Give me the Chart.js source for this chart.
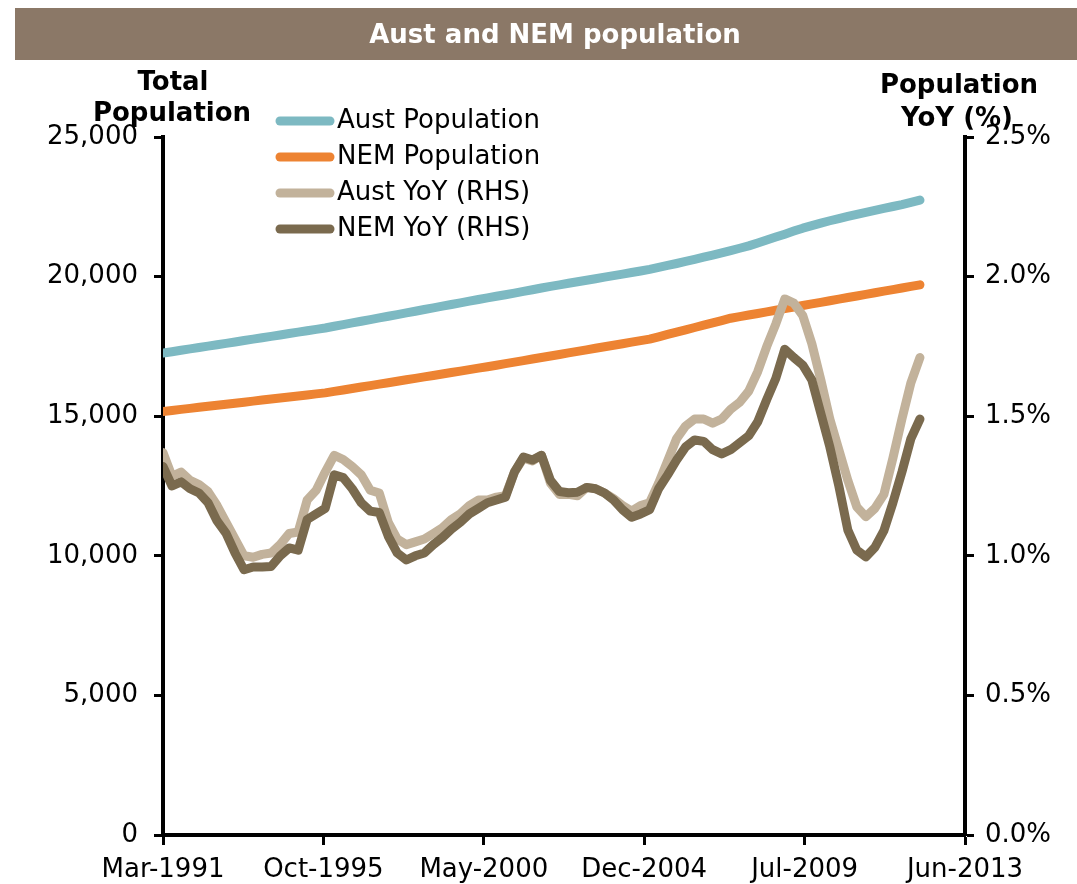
<!DOCTYPE html>
<html>
<head>
<meta charset="utf-8">
<title>Aust and NEM population</title>
<script src="https://cdn.jsdelivr.net/npm/chart.js@4.4.1/dist/chart.umd.min.js"></script>
<style>
  body { margin: 0; background: #fff; }
  #wrap { position: relative; width: 1077px; height: 884px; }
</style>
</head>
<body>
<div id="wrap"><canvas id="chart"></canvas></div>
<script>
// Quartalswerte Mar-1991 bis Mar-2012 (Index 0 = Mar-1991)
const austPop = [
  17260, 17310, 17360, 17410, 17460, 17510, 17560, 17610, 17660, 17710,
  17760, 17810, 17860, 17910, 17960, 18010, 18060, 18110, 18160, 18220,
  18280, 18340, 18400, 18460, 18520, 18580, 18640, 18700, 18760, 18820,
  18880, 18940, 19000, 19060, 19120, 19180, 19240, 19295, 19350, 19410,
  19470, 19530, 19590, 19650, 19705, 19760, 19815, 19870, 19925, 19980,
  20035, 20090, 20145, 20200, 20260, 20330, 20400, 20470, 20545, 20620,
  20695, 20770, 20850, 20930, 21015, 21100, 21205, 21310, 21415, 21520,
  21630, 21735, 21825, 21915, 22000, 22080, 22155, 22230, 22300, 22370,
  22440, 22510, 22580, 22660, 22740
];
const nemPop = [
  15170, 15207, 15244, 15281, 15318, 15355, 15392, 15429, 15466, 15503,
  15540, 15577, 15614, 15651, 15688, 15725, 15762, 15799, 15836, 15888,
  15940, 15992, 16044, 16096, 16148, 16200, 16252, 16304, 16356, 16408,
  16460, 16512, 16564, 16616, 16668, 16720, 16772, 16827, 16882, 16937,
  16992, 17047, 17102, 17157, 17212, 17267, 17322, 17377, 17432, 17487,
  17542, 17597, 17652, 17707, 17762, 17845, 17928, 18011, 18094, 18177,
  18260, 18343, 18426, 18509, 18566, 18623, 18680, 18737, 18794, 18851,
  18908, 18965, 19022, 19079, 19136, 19193, 19250, 19307, 19364, 19421,
  19478, 19535, 19592, 19649, 19706
];
const austYoY = [
  1.37, 1.285, 1.30, 1.27, 1.255, 1.23, 1.18, 1.12, 1.06, 1.00,
  0.995, 1.005, 1.01, 1.04, 1.08, 1.085, 1.20, 1.235, 1.30, 1.36,
  1.345, 1.32, 1.29, 1.235, 1.225, 1.12, 1.06, 1.04, 1.05, 1.06,
  1.08, 1.10, 1.13, 1.15, 1.18, 1.20, 1.20, 1.21, 1.215, 1.30,
  1.35, 1.34, 1.36, 1.26, 1.22, 1.22, 1.215, 1.245, 1.24, 1.225,
  1.205, 1.18, 1.16, 1.18, 1.19, 1.26, 1.34, 1.42, 1.465, 1.49,
  1.49, 1.475, 1.49, 1.525, 1.55, 1.59, 1.66, 1.75, 1.83, 1.92,
  1.905, 1.86, 1.76, 1.63, 1.49, 1.38, 1.27, 1.175, 1.14, 1.17,
  1.22, 1.35, 1.49, 1.62, 1.71
];
const nemYoY = [
  1.32, 1.25, 1.265, 1.24, 1.225, 1.19, 1.125, 1.08, 1.01, 0.95,
  0.96, 0.96, 0.962, 1.00, 1.028, 1.02, 1.13, 1.15, 1.17, 1.29,
  1.28, 1.24, 1.19, 1.16, 1.155, 1.07, 1.01, 0.985, 1.00, 1.01,
  1.04, 1.065, 1.095, 1.12, 1.15, 1.17, 1.19, 1.20, 1.21, 1.30,
  1.354, 1.343, 1.36, 1.27, 1.23, 1.226, 1.228, 1.245, 1.24, 1.225,
  1.20, 1.165, 1.138, 1.15, 1.165, 1.24, 1.29, 1.343, 1.39, 1.415,
  1.41, 1.38, 1.365, 1.38, 1.405, 1.43, 1.48, 1.56, 1.635, 1.74,
  1.71, 1.683, 1.63, 1.51, 1.39, 1.25, 1.092, 1.02, 0.996, 1.03,
  1.09, 1.19, 1.30, 1.42, 1.49
];

// Achsenbeschriftung unten (Excel-Datumsachse, 5 gleiche Abschnitte)
const xTickLabels = ["Mar-1991", "Oct-1995", "May-2000", "Dec-2004", "Jul-2009", "Jun-2013"];
const xTickPos = [0, 17.8, 35.6, 53.4, 71.2, 89];

const FONT = "'DejaVu Sans', Verdana, sans-serif";

const toPoints = (arr) => arr.map((v, i) => ({ x: i, y: v }));

// Titelbalken, Achsentitel und Legende
const decor = {
  id: "decor",
  beforeDraw(chart) {
    const c = chart.ctx;
    c.save();
    c.fillStyle = "#8B7867";
    c.fillRect(15, 8, 1062, 52);
    c.fillStyle = "#fff";
    c.font = "bold 26px " + FONT;
    c.textAlign = "center";
    c.textBaseline = "middle";
    c.fillText("Aust and NEM population", 555, 36);

    c.fillStyle = "#000";
    c.fillText("Total", 173, 83);
    c.fillText("Population", 172, 114);
    c.fillText("Population", 959, 86);
    c.fillText("YoY (%)", 957, 119);
    c.restore();
  },
  afterDraw(chart) {
    const c = chart.ctx;
    c.save();
    c.font = "26px " + FONT;
    c.textAlign = "left";
    c.textBaseline = "middle";
    chart.data.datasets.forEach((ds, i) => {
      const y = 121 + 36 * i;
      c.strokeStyle = ds.borderColor;
      c.lineWidth = 9;
      c.lineCap = "round";
      c.beginPath();
      c.moveTo(280, y);
      c.lineTo(330, y);
      c.stroke();
      c.fillStyle = "#000";
      c.fillText(ds.label, 337, y);
    });
    c.restore();
  },
};

const canvas = document.querySelector("#chart");
const ctx = canvas.getContext("2d");

new Chart(ctx, {
  type: "line",
  data: {
    datasets: [
      { label: "Aust Population", data: toPoints(austPop), borderColor: "#7DB9C2", yAxisID: "y", order: 4 },
      { label: "NEM Population", data: toPoints(nemPop), borderColor: "#ED8332", yAxisID: "y", order: 3 },
      { label: "Aust YoY (RHS)", data: toPoints(austYoY), borderColor: "#C2B29B", yAxisID: "y2", order: 2 },
      { label: "NEM YoY (RHS)", data: toPoints(nemYoY), borderColor: "#7A6A4E", yAxisID: "y2", order: 1 },
    ],
  },
  options: {
    responsive: true,
    maintainAspectRatio: false,
    animation: false,
    layout: { padding: { top: 137, left: 0, right: 0, bottom: 0 } },
    elements: {
      line: { borderWidth: 9, tension: 0, borderCapStyle: "round", borderJoinStyle: "round", fill: false },
      point: { radius: 0 },
    },
    plugins: {
      legend: { display: false },
      tooltip: { enabled: false },
    },
    scales: {
      x: {
        type: "linear",
        min: 0,
        max: 89,
        border: { color: "#000", width: 4 },
        grid: { drawOnChartArea: false, tickLength: 10, tickWidth: 3, tickColor: "#000" },
        ticks: {
          autoSkip: false,
          maxRotation: 0,
          padding: 10,
          color: "#000",
          font: { family: FONT, size: 26 },
          callback: (value, index) => xTickLabels[index],
        },
        afterBuildTicks: (scale) => {
          scale.ticks = xTickPos.map((v) => ({ value: v }));
        },
        afterFit: (scale) => {
          scale.height = 49;
        },
      },
      y: {
        position: "left",
        min: 0,
        max: 25000,
        border: { color: "#000", width: 4 },
        grid: { drawOnChartArea: false, tickLength: 9, tickWidth: 3, tickColor: "#000" },
        ticks: {
          stepSize: 5000,
          padding: 16,
          color: "#000",
          font: { family: FONT, size: 26 },
          callback: (v) => v.toLocaleString("en-US"),
        },
        afterFit: (scale) => {
          scale.width = 163;
        },
      },
      y2: {
        position: "right",
        min: 0,
        max: 2.5,
        border: { color: "#000", width: 4 },
        grid: { drawOnChartArea: false, tickLength: 9, tickWidth: 3, tickColor: "#000" },
        ticks: {
          stepSize: 0.5,
          padding: 11,
          color: "#000",
          font: { family: FONT, size: 26 },
          callback: (v) => v.toFixed(1) + "%",
        },
        afterFit: (scale) => {
          scale.width = 112;
        },
      },
    },
  },
  plugins: [decor],
});
</script>
</body>
</html>
